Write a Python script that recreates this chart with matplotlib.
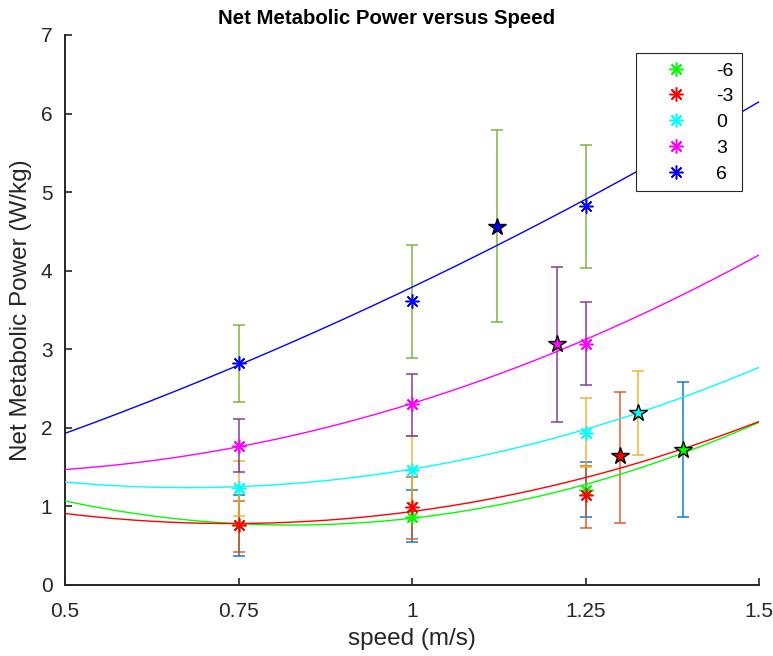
import numpy as np
import matplotlib.pyplot as plt

plt.rcParams['font.family'] = ['Liberation Sans', 'DejaVu Sans']

# grupos (pendiente)
grupos = ['-6', '-3', '0', '3', '6']
colores_marca = ['#00FF00', '#FF0000', '#00FFFF', '#FF00FF', '#0000FF']
colores_barra = ['#0072BD', '#D95319', '#EDB120', '#7E2F8E', '#77AC30']

velocidades = [0.75, 1.0, 1.25]

# medias y limites de las barras de error en cada velocidad
media_m6 = [0.76, 0.87, 1.21]
bajo_m6 = [0.37, 0.545, 0.86]
alto_m6 = [1.14, 1.21, 1.56]

media_m3 = [0.76, 0.99, 1.14]
bajo_m3 = [0.42, 0.587, 0.73]
alto_m3 = [1.075, 1.38, 1.52]

media_0 = [1.24, 1.47, 1.94]
bajo_0 = [0.88, 1.04, 1.50]
alto_0 = [1.58, 1.90, 2.38]

media_3 = [1.77, 2.31, 3.07]
bajo_3 = [1.44, 1.90, 2.54]
alto_3 = [2.11, 2.69, 3.60]

media_6 = [2.82, 3.61, 4.82]
bajo_6 = [2.33, 2.89, 4.03]
alto_6 = [3.31, 4.33, 5.60]

# puntos con estrella (velocidad optima)
estrella_vel = [1.391, 1.30, 1.326, 1.209, 1.123]
estrella_pot = [1.72, 1.64, 2.19, 3.07, 4.56]
estrella_bajo = [0.86, 0.79, 1.65, 2.08, 3.35]
estrella_alto = [2.58, 2.46, 2.72, 4.05, 5.79]

# coeficientes del ajuste cuadratico (a*v^2 + b*v + c)
ajuste_m6 = [2.88, -4.76, 2.73]
ajuste_m3 = [2.24, -3.31, 2.005]
ajuste_0 = [2.26, -3.06, 2.275]
ajuste_3 = [2.10, -1.47, 1.68]
ajuste_6 = [1.00, 2.22, 0.57]

medias = [media_m6, media_m3, media_0, media_3, media_6]
bajos = [bajo_m6, bajo_m3, bajo_0, bajo_3, bajo_6]
altos = [alto_m6, alto_m3, alto_0, alto_3, alto_6]
ajustes = [ajuste_m6, ajuste_m3, ajuste_0, ajuste_3, ajuste_6]

fig = plt.figure(figsize=(7.73, 6.56), dpi=100)
ax = fig.add_axes([65 / 773, 71 / 656, 694 / 773, 550 / 656])

asterisco = (8, 2, 0)
v = np.linspace(0.5, 1.5, 200)

for i in range(len(grupos)):
    m = np.array(medias[i])
    err = [m - np.array(bajos[i]), np.array(altos[i]) - m]
    ax.errorbar(velocidades, m, yerr=err, fmt='none', ecolor=colores_barra[i],
                elinewidth=1.2, capsize=4.5, capthick=1.2, alpha=0.85, zorder=2)
    ax.plot(v, np.polyval(ajustes[i], v), color=colores_marca[i], lw=1.0, zorder=3)
    ax.plot(velocidades, m, ls='none', marker=asterisco, ms=10, mew=1.1,
            color=colores_marca[i], label=grupos[i], zorder=4)
    e = [[estrella_pot[i] - estrella_bajo[i]], [estrella_alto[i] - estrella_pot[i]]]
    ax.errorbar([estrella_vel[i]], [estrella_pot[i]], yerr=e, fmt='none',
                ecolor=colores_barra[i], elinewidth=1.2, capsize=4.5, capthick=1.2,
                alpha=0.85, zorder=2)
    ax.plot([estrella_vel[i]], [estrella_pot[i]], ls='none', marker='*', ms=13,
            mfc=colores_marca[i], mec='black', mew=1.0, zorder=5)

ax.set_xlim(0.5, 1.5)
ax.set_ylim(0, 7)
ax.set_xticks([0.5, 0.75, 1, 1.25, 1.5])
ax.set_xticklabels(['0.5', '0.75', '1', '1.25', '1.5'])
ax.set_yticks(range(8))

for lado in ['top', 'right']:
    ax.spines[lado].set_visible(False)
for lado in ['left', 'bottom']:
    ax.spines[lado].set_color('#262626')
    ax.spines[lado].set_linewidth(1.4)
ax.tick_params(axis='x', direction='in', length=5, width=1.2, colors='#262626',
               labelsize=15, pad=12)
ax.tick_params(axis='y', direction='in', length=5, width=1.2, colors='#262626',
               labelsize=15, pad=9)

ax.set_xlabel('speed (m/s)', fontsize=17.5, color='#262626', labelpad=5)
ax.set_ylabel('Net Metabolic Power (W/kg)', fontsize=17.5, color='#262626', labelpad=6)
fig.text(0.5, 1 - 18 / 656, 'Net Metabolic Power versus Speed', fontsize=14.7,
         fontweight='bold', ha='center', va='center')

leg = ax.legend(loc='upper right', bbox_to_anchor=(0.9755, 0.967), fontsize=14,
                fancybox=False, framealpha=1, edgecolor='#262626', borderaxespad=0,
                handlelength=3.2, handletextpad=0.45, labelspacing=0.42,
                borderpad=0.45)
leg.get_frame().set_linewidth(0.8)

fig.savefig('out.png', dpi=100)
